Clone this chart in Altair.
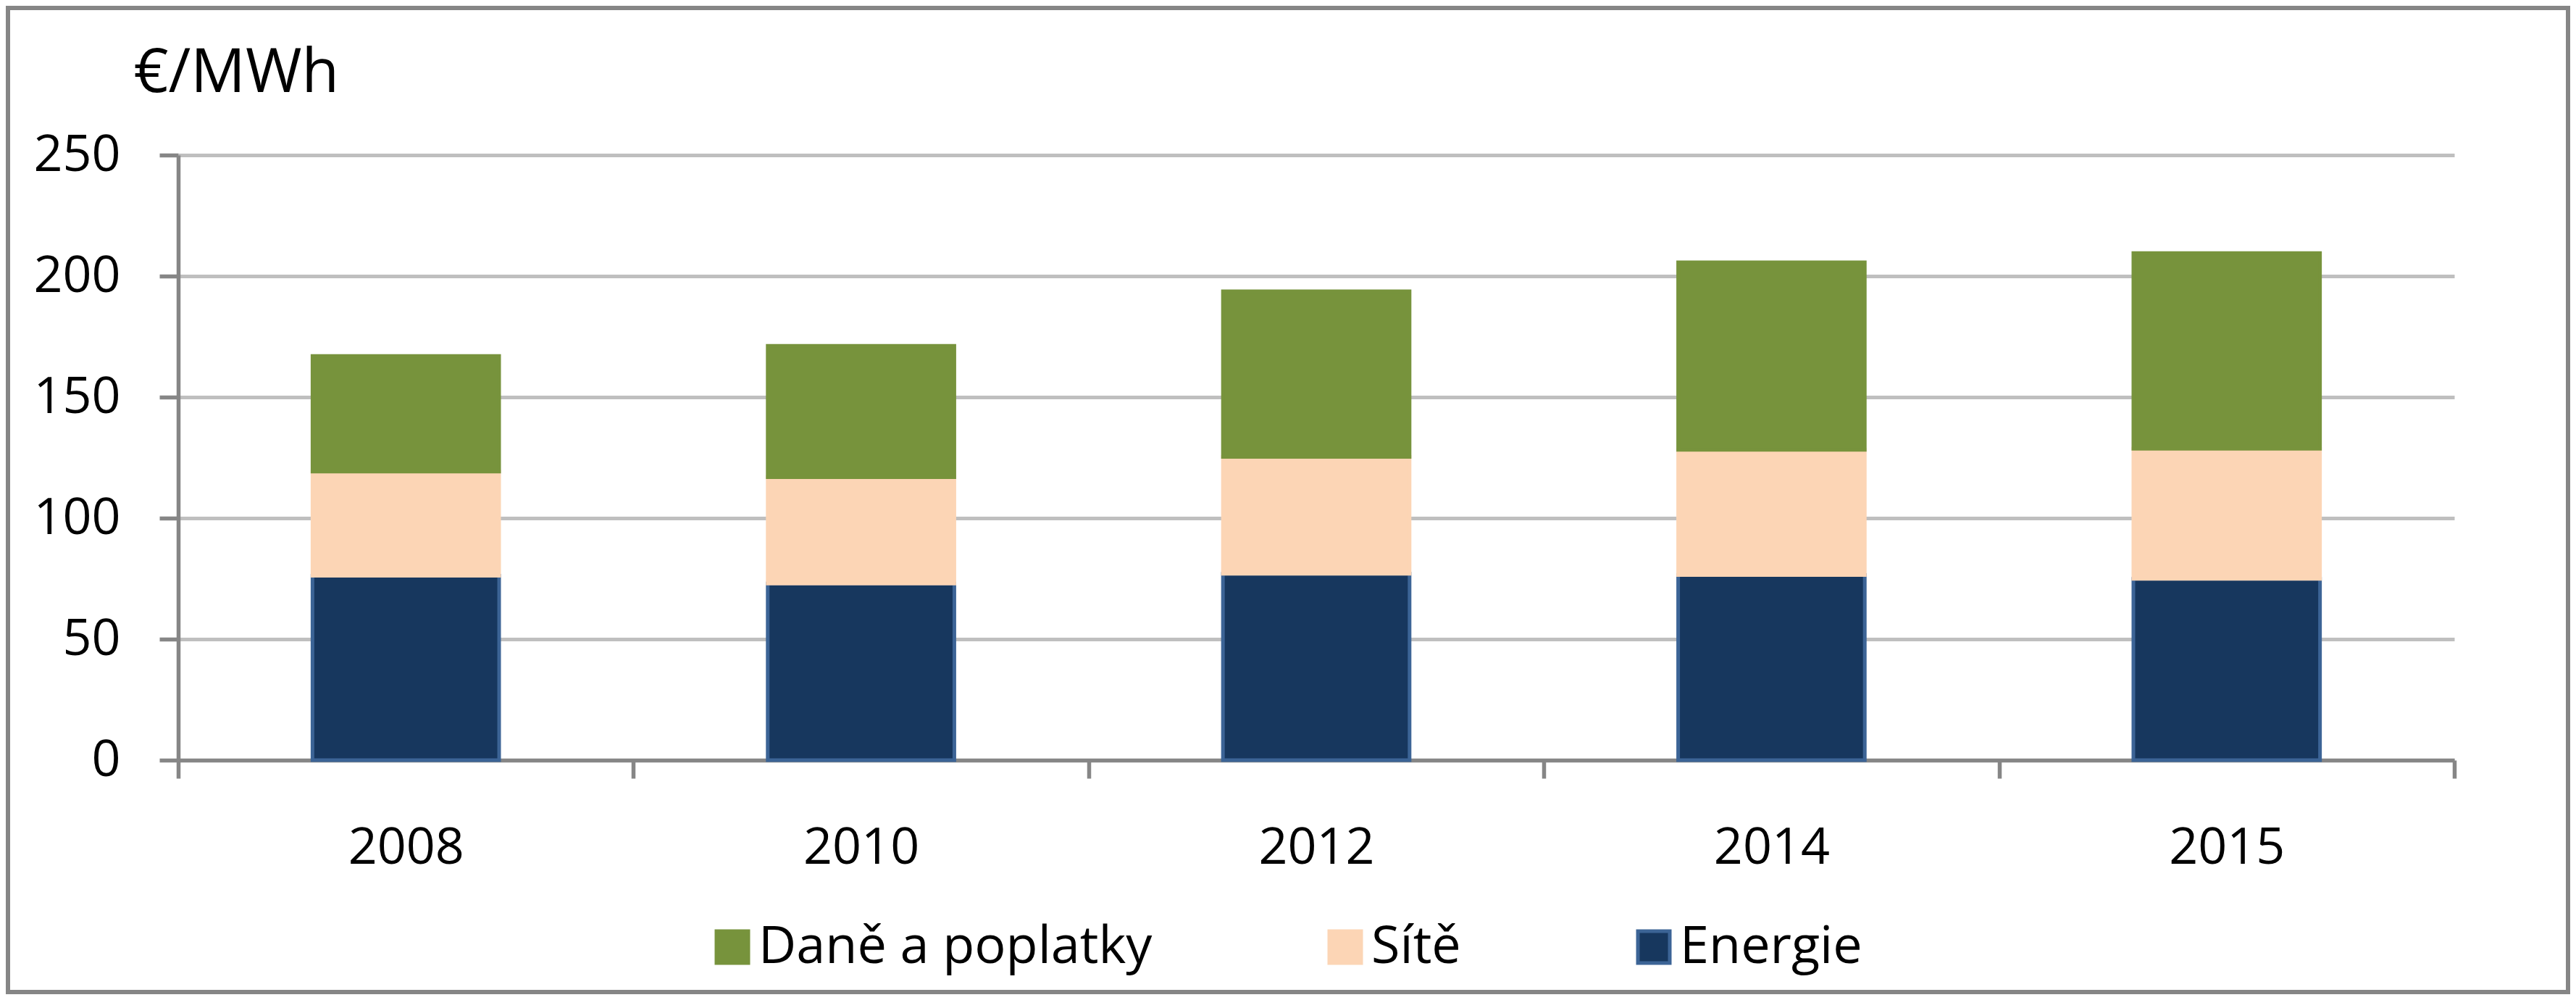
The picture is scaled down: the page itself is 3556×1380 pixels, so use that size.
import altair as alt
import pandas as pd

years = ["2008", "2010", "2012", "2014", "2015"]
energie = [76.2, 73.0, 77.0, 76.5, 74.9]
site = [43.0, 43.9, 48.3, 51.7, 53.8]
dane = [47.8, 54.3, 68.4, 77.5, 80.8]

series = ["Daně a poplatky", "Sítě", "Energie"]
fill_colors = ["#77933C", "#FCD5B5", "#17375E"]
stroke_colors = ["#77933C", "#FCD5B5", "#3C6496"]
y_ticks = [0, 50, 100, 150, 200, 250]

rows = []
for i, yr in enumerate(years):
    rows.append({"year": yr, "series": "Energie", "value": energie[i], "ord": 0})
    rows.append({"year": yr, "series": "Sítě", "value": site[i], "ord": 1})
    rows.append({"year": yr, "series": "Daně a poplatky", "value": dane[i], "ord": 2})
df = pd.DataFrame(rows)

W, H = 3142, 835
PL, PT = 238, 206
PR = 3540 - PL - W
PB = 1364 - PT - H

FONT = "Open Sans"
AXIS_GRAY = "#868686"
GRID_GRAY = "#BFBFBF"

legend = alt.Legend(
    title=None,
    orient="none",
    legendX=729,
    legendY=1057,
    direction="horizontal",
    symbolType="square",
    symbolSize=1936,
    symbolStrokeWidth=5,
    labelFont=FONT,
    labelFontSize=72,
    labelColor="#000000",
    labelLimit=0,
    labelOffset=0,
    columnPadding=230,
    padding=0,
)

bars = alt.Chart(df).mark_bar(width=alt.RelativeBandSize(0.41), strokeWidth=5).encode(
    x=alt.X(
        "year:N",
        sort=years,
        scale=alt.Scale(paddingInner=0, paddingOuter=0),
        axis=alt.Axis(
            title=None,
            labelAngle=0,
            tickBand="extent",
            grid=False,
            domainColor=AXIS_GRAY,
            domainWidth=5.5,
            tickColor=AXIS_GRAY,
            tickWidth=5.5,
            tickSize=25,
            labelFont=FONT,
            labelFontSize=70,
            labelColor="#000000",
            labelBaseline="alphabetic",
            labelPadding=117,
        ),
    ),
    y=alt.Y(
        "value:Q",
        stack="zero",
        scale=alt.Scale(domain=[0, 250], nice=False),
        axis=alt.Axis(
            values=y_ticks,
            title="€/MWh",
            titleAngle=0,
            titleAlign="left",
            titleBaseline="alphabetic",
            titleX=-62,
            titleY=-88,
            titleFont=FONT,
            titleFontSize=84,
            titleFontWeight="normal",
            titleColor="#000000",
            domainColor=AXIS_GRAY,
            domainWidth=5.5,
            tickColor=AXIS_GRAY,
            tickWidth=5.5,
            tickSize=26,
            gridColor=GRID_GRAY,
            gridWidth=5,
            labelFont=FONT,
            labelFontSize=70,
            labelColor="#000000",
            labelPadding=54,
        ),
    ),
    color=alt.Color("series:N", scale=alt.Scale(domain=series, range=fill_colors), legend=legend),
    stroke=alt.Stroke("series:N", scale=alt.Scale(domain=series, range=stroke_colors), legend=legend),
    order=alt.Order("ord:Q", sort="ascending"),
)

frame = alt.Chart(pd.DataFrame({"f": [0]})).mark_rect(
    filled=False, stroke=AXIS_GRAY, strokeWidth=6
).encode(
    x=alt.value(-PL + 3),
    x2=alt.value(W + PR - 3),
    y=alt.value(-PT + 3),
    y2=alt.value(H + PB - 3),
)

chart = alt.layer(bars, frame).properties(
    width=W,
    height=H,
    autosize=alt.AutoSizeParams(type="none"),
    padding={"left": PL, "top": PT, "right": PR, "bottom": PB},
    background="white",
).configure_view(strokeWidth=0)

chart.save("out.html", embed_options={"renderer": "svg", "actions": False})
